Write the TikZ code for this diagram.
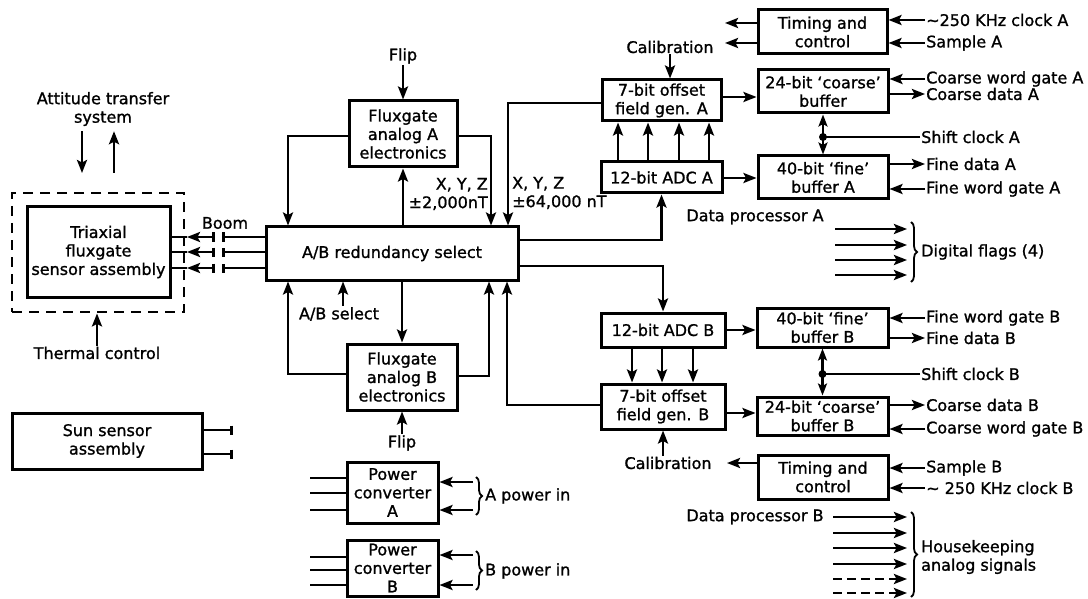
\documentclass[tikz,border=0pt]{standalone}
\usepackage{fontspec}
\setmainfont{DejaVu Sans}[FakeBold=1.2]
\usetikzlibrary{arrows.meta,decorations.pathreplacing,calc}
\begin{document}
\begin{tikzpicture}[x=1pt,y=-1pt,
  every node/.style={font=\fontsize{16}{18.5}\selectfont, inner sep=1pt},
  box/.style={draw, line width=3pt, align=center, inner sep=0pt},
  ln/.style={line width=2.8pt},
  arr/.style={line width=2.8pt, -{Stealth[length=13pt,width=10pt,inset=2.5pt]}},
  dbl/.style={line width=2.8pt, {Stealth[length=12pt,width=9pt,inset=2.5pt]}-{Stealth[length=12pt,width=9pt,inset=2.5pt]}},
  lbl/.style={anchor=west, align=left},
  brc/.style={decorate, decoration={brace, amplitude=6pt}, line width=1.8pt},
  barend/.style={line width=2.8pt, -{Bar[width=9pt,line width=2.8pt]}},
]
\useasboundingbox (0,0) rectangle (1088,599);

% ---------------- left part ----------------
\node[box, minimum width=143pt, minimum height=90pt] (tri) at (98.5,252) {Triaxial\\fluxgate\\sensor assembly};
\node[draw, line width=2.8pt, dash pattern=on 10pt off 7pt, minimum width=172pt, minimum height=119pt] (enc) at (98,252.5) {};
\node[align=center] (att) at (103,109) {Attitude transfer\\system};
\coordinate (attD) at (82,173);
\coordinate (attU) at (114,173);
\draw[arr, shorten <=4pt] (att.south -| attD) -- (attD);
\draw[arr, shorten >=4pt] (attU) -- (att.south -| attU);
\node (thermal) at (97,353) {Thermal control};
\draw[arr] (thermal.north) -- (thermal.north |- enc.south);

\node[box, minimum width=190pt, minimum height=56pt] (sun) at (107,441) {Sun sensor\\assembly};
\coordinate (sunA) at (233,430);
\coordinate (sunB) at (233,454);
\draw[barend] (sun.east |- sunA) -- (sunA);
\draw[barend] (sun.east |- sunB) -- (sunB);

% ---------------- centre ----------------
\node[box, minimum width=252pt, minimum height=53pt] (red) at (392,253.5) {A/B redundancy select};
\node[box, minimum width=108pt, minimum height=66pt] (fa) at (403,134) {Fluxgate\\analog A\\electronics};
\node[box, minimum width=110pt, minimum height=66pt] (fb) at (402,377) {Fluxgate\\analog B\\electronics};
\node (boom) at (225,223) {Boom};

\foreach \y in {237,252,268}{
  \draw[barend] (red.west |- 0,\y) -- (222,\y);
  \draw[line width=2.8pt, {Bar[width=9pt,line width=2.8pt]}-{Stealth[length=13pt,width=10pt,inset=2.5pt]}] (215,\y) -- (187,\y);
  \draw[ln] (187,\y) -- (tri.east |- 0,\y);
}

\node (flipA) at (403,56) {Flip};
\draw[arr] (flipA.south) -- (fa.north);
\draw[arr] (fa.west |- 0,136) -| (red.north -| 288,0);
\draw[arr] (red.north -| fa.south) -- (fa.south);
\draw[arr] (fa.east |- 0,136) -| (red.north -| 491,0);

\draw[arr] (fb.west |- 0,374) -| (red.south -| 288,0);
\draw[arr] (red.south -| fb.north) -- (fb.north);
\draw[arr] (fb.east |- 0,376) -| (red.south -| 489,0);
\node (absel) at (339,314) {A/B select};
\draw[arr] (absel.north -| 343,0) -- (red.south -| 343,0);
\node (flipB) at (402,443) {Flip};
\draw[arr] (flipB.north) -- (fb.south);

\node[anchor=east, align=right] (xyz1) at (489,194) {X, Y, Z\\±2,000nT};
\node[anchor=west, align=left] (xyz2) at (511,193) {X, Y, Z\\±64,000 nT};

% power converters
\node[box, minimum width=91pt, minimum height=61pt] (pa) at (392.5,492.5) {Power\\converter\\A};
\node[box, minimum width=91pt, minimum height=56pt] (pb) at (392.5,568) {Power\\converter\\B};
\foreach \y in {478,493,510} \draw[ln] (310,\y) -- (pa.west |- 0,\y);
\foreach \y in {557,570,585} \draw[ln] (310,\y) -- (pb.west |- 0,\y);
\foreach \y in {482,510} \draw[arr] (473,\y) -- (pa.east |- 0,\y);
\foreach \y in {555,585} \draw[arr] (473,\y) -- (pb.east |- 0,\y);
\draw[brc] (476,477) -- (476,515);
\draw[brc] (476,551) -- (476,590);
\node[lbl] (apow) at (484,496) {A power in};
\node[lbl] (bpow) at (484,571) {B power in};

% ---------------- data processor A ----------------
\node[box, minimum width=129pt, minimum height=44pt] (tA) at (822.5,32) {Timing and\\control};
\node[box, minimum width=119pt, minimum height=41pt] (oA) at (661.5,100.5) {7-bit offset\\field gen. A};
\node[box, minimum width=130pt, minimum height=43pt] (cA) at (823,91.5) {24-bit ‘coarse’\\buffer};
\node[box, minimum width=121pt, minimum height=31pt] (adcA) at (661.5,177.5) {12-bit ADC A};
\node[box, minimum width=130pt, minimum height=43pt] (fA) at (823,177.5) {40-bit ‘fine’\\buffer A};

\draw[arr] (oA.west |- 0,103) -| (red.north -| 508,0);
\draw[arr] (red.east |- 0,240) -| (adcA.south);
\node (calA) at (670,47) {Calibration};
\draw[arr] (calA.south) -- (calA.south |- oA.north);
\coordinate (tAo1) at (725,23);
\coordinate (tAo2) at (725,43);
\draw[arr] (tA.west |- tAo1) -- (tAo1);
\draw[arr] (tA.west |- tAo2) -- (tAo2);
\draw[arr] (oA.east |- 0,97) -- (cA.west |- 0,97);
\foreach \x in {618,648,679,709} \draw[arr] (adcA.north -| \x,0) -- (oA.south -| \x,0);
\draw[arr] (adcA.east |- 0,178) -- (fA.west |- 0,178);

\node[lbl] (clkA) at (925,20) {∼250 KHz clock A};
\node[lbl] (smpA) at (925,43) {Sample A};
\node[lbl] (cwgA) at (925,79) {Coarse word gate A};
\node[lbl] (cdA) at (925,94) {Coarse data A};
\node[lbl] (sckA) at (920,137) {Shift clock A};
\node[lbl] (fdA) at (925,164) {Fine data A};
\node[lbl] (fwgA) at (925,189) {Fine word gate A};
\draw[arr] (clkA.west) -- (tA.east |- clkA.west);
\draw[arr] (smpA.west) -- (tA.east |- smpA.west);
\draw[arr] (cwgA.west) -- (cA.east |- cwgA.west);
\draw[arr] (cA.east |- cdA.west) -- (cdA.west);
\draw[dbl] (cA.south) -- (fA.north);
\draw[ln] (sckA.west) -- (cA.south |- sckA.west);
\fill (cA.south |- sckA.west) circle (4pt);
\draw[arr] (fA.east |- fdA.west) -- (fdA.west);
\draw[arr] (fwgA.west) -- (fA.east |- fwgA.west);
\node (dpA) at (755,217) {Data processor A};

% digital flags
\foreach \y in {229,245,260,275} \draw[arr] (835,\y) -- (907,\y);
\draw[brc] (911,222) -- (911,282);
\node[lbl] (dflag) at (920,252) {Digital flags (4)};

% ---------------- data processor B ----------------
\node[box, minimum width=124pt, minimum height=34pt] (adcB) at (663,330) {12-bit ADC B};
\node[box, minimum width=131pt, minimum height=39pt] (fB) at (822.5,327.5) {40-bit ‘fine’\\buffer B};
\node[box, minimum width=124pt, minimum height=45pt] (oB) at (663,406.5) {7-bit offset\\field gen. B};
\node[box, minimum width=131pt, minimum height=38pt] (cB) at (822.5,416) {24-bit ‘coarse’\\buffer B};
\node[box, minimum width=130pt, minimum height=44pt] (tB) at (823,477) {Timing and\\control};

\draw[arr] (oB.west |- 0,405) -| (red.south -| 507,0);
\draw[arr] (red.east |- 0,266) -| (adcB.north);
\draw[arr] (adcB.east |- 0,330) -- (fB.west |- 0,330);
\foreach \x in {632,662,693} \draw[arr] (adcB.south -| \x,0) -- (oB.north -| \x,0);
\draw[arr] (oB.east |- 0,413) -- (cB.west |- 0,413);
\node (calB) at (668,463) {Calibration};
\draw[arr] (calB.north -| oB.south) -- (oB.south);
\coordinate (tBo) at (727,463);
\draw[arr] (tB.west |- tBo) -- (tBo);

\node[lbl] (fwgB) at (925,318) {Fine word gate B};
\node[lbl] (fdB) at (925,338) {Fine data B};
\node[lbl] (sckB) at (920,374) {Shift clock B};
\node[lbl] (cdB) at (925,405) {Coarse data B};
\node[lbl] (cwgB) at (925,429) {Coarse word gate B};
\node[lbl] (smpB) at (925,468) {Sample B};
\node[lbl] (clkB) at (925,488) {∼ 250 KHz clock B};
\draw[arr] (fwgB.west) -- (fB.east |- fwgB.west);
\draw[arr] (fB.east |- fdB.west) -- (fdB.west);
\draw[dbl] (fB.south) -- (cB.north);
\draw[ln] (sckB.west) -- (fB.south |- sckB.west);
\fill (fB.south |- sckB.west) circle (4pt);
\draw[arr] (cB.east |- cdB.west) -- (cdB.west);
\draw[arr] (cwgB.west) -- (cB.east |- cwgB.west);
\draw[arr] (smpB.west) -- (tB.east |- smpB.west);
\draw[arr] (clkB.west) -- (tB.east |- clkB.west);
\node (dpB) at (755,517) {Data processor B};

% housekeeping
\foreach \y in {517,533,548,564} \draw[arr] (833,\y) -- (907,\y);
\foreach \y in {579,593} \draw[arr, dash pattern=on 9pt off 5pt] (833,\y) -- (907,\y);
\draw[brc] (911,512) -- (911,597);
\node[lbl] (hk) at (920,557) {Housekeeping\\analog signals};
\end{tikzpicture}
\end{document}
